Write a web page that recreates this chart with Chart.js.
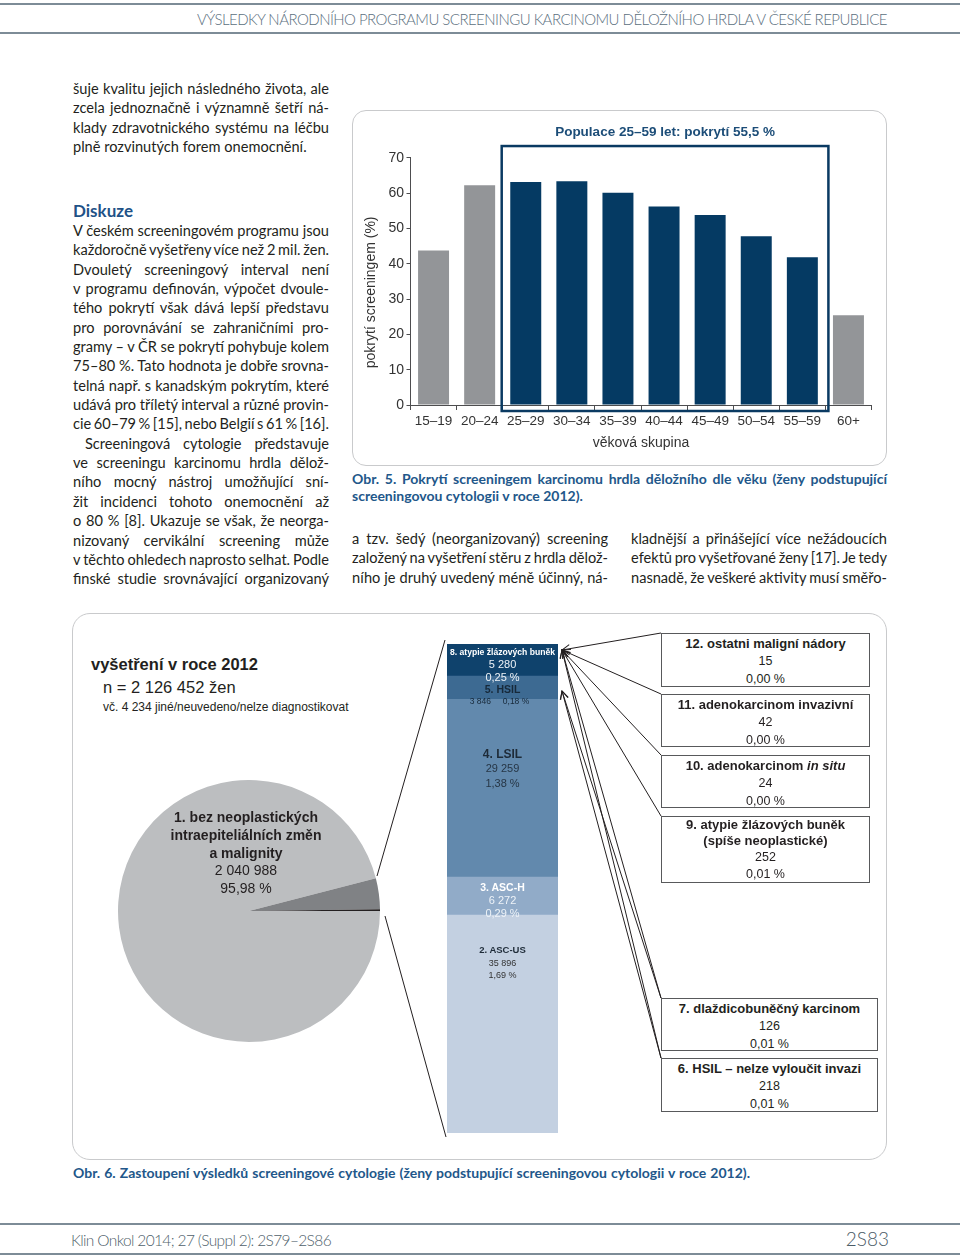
<!DOCTYPE html>
<html lang="cs">
<head>
<meta charset="utf-8">
<title>Výsledky screeningu karcinomu děložního hrdla</title>
<script src="https://cdn.jsdelivr.net/npm/chart.js@4.4.1/dist/chart.umd.min.js"></script>
<style>
  html, body { margin: 0; padding: 0; background: #fff; }
  body { width: 960px; height: 1258px; position: relative; overflow: hidden; font-family: Lato, 'Open Sans', sans-serif; color: #231f20; }
  .rule { position: absolute; left: 0; width: 960px; border-top: 2px solid #7d8c97; }
  .col { position: absolute; width: 256px; font-size: 14.6px; line-height: 19.35px; }
  .ln { display: table; white-space: nowrap; }
  .cap { position: absolute; color: #22578a; font-weight: 700; font-size: 14px; line-height: 17px; }
  .frame { position: absolute; box-sizing: border-box; border: 1.5px solid #c9cacc; border-radius: 14px; }
  .lbl { position: absolute; z-index: 5; transform: translate(-50%, -50%); white-space: nowrap; line-height: 1; font-family: 'Liberation Sans', Arial, sans-serif; }
  .box { position: absolute; box-sizing: border-box; border: 1.5px solid #58595b; background: #fff; text-align: center;
         font-family: 'Liberation Sans', Arial, sans-serif; font-size: 12.5px; line-height: 17.3px; padding-top: 1px; color: #231f20; }
  .box.tall { line-height: 16.2px; padding-top: 0; }
  .box b { font-size: 13px; }
  canvas { position: absolute; }
</style>
</head>
<body>

<div class="rule" style="top:3px"></div>
<div class="rule" style="top:32px"></div>
<div style="position:absolute;left:197px;top:8px;line-height:22px;font-size:15px;font-weight:300;color:#5b7080;">
  <span class="ln" data-fit="690" data-mode="letter">VÝSLEDKY NÁRODNÍHO PROGRAMU SCREENINGU KARCINOMU DĚLOŽNÍHO HRDLA V ČESKÉ REPUBLICE</span>
</div>

<!-- left column -->
<div class="col" style="left:73px;top:79px">
  <span class="ln j">šuje kvalitu jejich následného života, ale</span>
  <span class="ln j">zcela jednoznačně i významně šetří ná-</span>
  <span class="ln j">klady zdravotnického systému na léčbu</span>
  <span class="ln">plně rozvinutých forem onemocnění.</span>
</div>
<div style="position:absolute;left:73px;top:201px;line-height:20px;font-size:17px;font-weight:700;color:#1f5287;">Diskuze</div>
<div class="col" style="left:73px;top:221px">
  <span class="ln j">V českém screeningovém programu jsou</span>
  <span class="ln j">každoročně vyšetřeny více než 2 mil. žen.</span>
  <span class="ln j">Dvouletý screeningový interval není</span>
  <span class="ln j">v programu definován, výpočet dvoule-</span>
  <span class="ln j">tého pokrytí však dává lepší představu</span>
  <span class="ln j">pro porovnávání se zahraničními pro-</span>
  <span class="ln j">gramy – v ČR se pokrytí pohybuje kolem</span>
  <span class="ln j">75–80 %. Tato hodnota je dobře srovna-</span>
  <span class="ln j">telná např. s kanadským pokrytím, které</span>
  <span class="ln j">udává pro tříletý interval a různé provin-</span>
  <span class="ln j">cie 60–79 % [15], nebo Belgií s 61 % [16].</span>
  <span class="ln j" style="margin-left:12px">Screeningová cytologie představuje</span>
  <span class="ln j">ve screeningu karcinomu hrdla dělož-</span>
  <span class="ln j">ního mocný nástroj umožňující sní-</span>
  <span class="ln j">žit incidenci tohoto onemocnění až</span>
  <span class="ln j">o 80 % [8]. Ukazuje se však, že neorga-</span>
  <span class="ln j">nizovaný cervikální screening může</span>
  <span class="ln j">v těchto ohledech naprosto selhat. Podle</span>
  <span class="ln j">finské studie srovnávající organizovaný</span>
</div>

<!-- figure 5 -->
<div class="frame" style="left:352px;top:110px;width:535px;height:356px"></div>
<canvas id="coverage" width="535" height="356" style="left:352px;top:110px"></canvas>

<div class="cap" style="left:352px;top:470px;width:535px">
  <span class="ln j">Obr. 5. Pokrytí screeningem karcinomu hrdla děložního dle věku (ženy podstupující</span>
  <span class="ln">screeningovou cytologii v roce 2012).</span>
</div>

<div class="col" style="left:352px;top:529px">
  <span class="ln j">a tzv. šedý (neorganizovaný) screening</span>
  <span class="ln j">založený na vyšetření stěru z hrdla dělož-</span>
  <span class="ln j">ního je druhý uvedený méně účinný, ná-</span>
</div>
<div class="col" style="left:631px;top:529px">
  <span class="ln j">kladnější a přinášející více nežádoucích</span>
  <span class="ln j">efektů pro vyšetřované ženy [17]. Je tedy</span>
  <span class="ln j">nasnadě, že veškeré aktivity musí směřo-</span>
</div>

<!-- figure 6 -->
<div class="frame" style="left:72px;top:613px;width:815px;height:547px;border-radius:18px"></div>
<canvas id="pie" width="262" height="262" style="left:118px;top:780px"></canvas>
<canvas id="cyto" width="111" height="489" style="left:447px;top:644px"></canvas>
<div id="fig6"></div>
<svg id="links" width="960" height="1258" style="position:absolute;left:0;top:0;z-index:3">
  <defs>
    <marker id="ah" markerWidth="10" markerHeight="10" refX="9" refY="5" orient="auto" markerUnits="userSpaceOnUse">
      <path d="M1,1 L9,5 L1,9" fill="none" stroke="#231f20" stroke-width="1"/>
    </marker>
  </defs>
  <g id="linkGroup" stroke="#231f20" stroke-width="1" fill="none"></g>
</svg>

<div class="cap" style="left:73px;top:1164px">
  <span class="ln" data-fit="677">Obr. 6. Zastoupení výsledků screeningové cytologie (ženy podstupující screeningovou cytologii v roce 2012).</span>
</div>

<div class="rule" style="top:1223px"></div>
<div class="rule" style="top:1253px"></div>
<div style="position:absolute;left:71px;top:1229px;line-height:22px;font-size:15.5px;font-weight:300;color:#4f5f6b;">
  <span class="ln" data-fit="260" data-mode="letter">Klin Onkol 2014; 27 (Suppl 2): 2S79–2S86</span>
</div>
<div style="position:absolute;right:71px;top:1227px;line-height:24px;font-size:19px;font-weight:300;color:#4a5a66;">2S83</div>

<script>
// obr. 5 – pokrytí dle věku
const ageGroups = ['15–19', '20–24', '25–29', '30–34', '35–39', '40–44', '45–49', '50–54', '55–59', '60+']
const coverage = [43.7, 62.2, 63.1, 63.3, 60.1, 56.2, 53.8, 47.8, 41.8, 25.4]
const targetGroups = ['25–29', '30–34', '35–39', '40–44', '45–49', '50–54', '55–59']
const targetTitle = 'Populace 25–59 let: pokrytí 55,5 %'
const yTitle = 'pokrytí screeningem (%)'
const xTitle = 'věková skupina'

// obr. 6 – výsledky cytologie
const normalLabel = '1. bez neoplastických|intraepiteliálních změn|a malignity'
const normalCount = 2040988
const otherCount = 4234 // jiné/neuvedeno/nelze diagnostikovat
const cytoLabels = ['2. ASC-US', '3. ASC-H', '4. LSIL', '5. HSIL', '8. atypie žlázových buněk']
const cytoCounts = [35896, 6272, 29259, 3846, 5280]
const rareLabels = ['12. ostatni maligní nádory', '11. adenokarcinom invazivní', '10. adenokarcinom <i>in situ</i>',
  '9. atypie žlázových buněk<br>(spíše neoplastické)', '7. dlaždicobuněčný karcinom', '6. HSIL – nelze vyloučit invazi']
const rareCounts = [15, 42, 24, 252, 126, 218]

const sum = (a) => a.reduce((s, v) => s + v, 0)
const fmt = (n) => String(n).replace(/\B(?=(\d{3})+(?!\d))/g, ' ')
const abnormalCount = sum(cytoCounts) + sum(rareCounts)
const total = normalCount + abnormalCount + otherCount
const pct = (n) => (n / total * 100).toFixed(2).replace('.', ',') + ' %'

Chart.defaults.font.family = "'Liberation Sans', Arial, sans-serif"
Chart.defaults.color = '#333'

const NAVY = '#053a63'
const GREY = '#939598'
const AXIS = '#4d4d4f'

const targetBox = {
  id: 'targetBox',
  afterDraw(chart) {
    const { ctx, scales: { x, y } } = chart
    const i0 = ageGroups.indexOf(targetGroups[0])
    const i1 = ageGroups.indexOf(targetGroups[targetGroups.length - 1])
    const half = (x.getPixelForValue(1) - x.getPixelForValue(0)) / 2
    const left = x.getPixelForValue(i0) - half - 1
    const right = x.getPixelForValue(i1) + half + 3
    const top = y.getPixelForValue(73.3)
    const bottom = y.bottom + 6
    ctx.save()
    ctx.strokeStyle = '#0a3a62'
    ctx.lineWidth = 2.5
    ctx.strokeRect(left, top, right - left, bottom - top)
    ctx.fillStyle = '#1c4d78'
    ctx.font = "bold 13.5px 'Liberation Sans', Arial, sans-serif"
    ctx.textAlign = 'center'
    ctx.textBaseline = 'middle'
    ctx.fillText(targetTitle, (left + right) / 2, y.getPixelForValue(77.1))
    // y axis title
    ctx.fillStyle = '#333'
    ctx.font = "14px 'Liberation Sans', Arial, sans-serif"
    ctx.translate(19, (y.top + y.bottom) / 2 + 11)
    ctx.rotate(-Math.PI / 2)
    ctx.fillText(yTitle, 0, 0)
    ctx.restore()
  },
}

new Chart(document.getElementById('coverage'), {
  type: 'bar',
  data: {
    labels: ageGroups,
    datasets: [
      {
        data: coverage,
        backgroundColor: ageGroups.map((g) => (targetGroups.includes(g) ? NAVY : GREY)),
        categoryPercentage: 0.8,
        barPercentage: 0.84,
      },
    ],
  },
  options: {
    responsive: false,
    animation: false,
    layout: { padding: { top: 47.7, right: 15.5, left: 0, bottom: 0 } },
    plugins: { legend: { display: false }, tooltip: { enabled: false } },
    scales: {
      x: {
        offset: true,
        grid: { offset: true, drawOnChartArea: false, tickLength: 5, color: AXIS },
        border: { color: AXIS },
        ticks: { color: '#333', font: { size: 13.5 }, padding: 3, maxRotation: 0, autoSkip: false },
        title: { display: true, text: xTitle, color: '#333', font: { size: 14 }, padding: { top: 4, bottom: 14.6 } },
        afterFit: (s) => { s.height = 61 },
      },
      y: {
        min: 0,
        max: 70,
        ticks: { stepSize: 10, color: '#333', font: { size: 14 }, padding: 2.5 },
        grid: { drawOnChartArea: false, tickLength: 4, color: AXIS },
        border: { color: AXIS },
        afterFit: (s) => { s.width = 58.5 },
      },
    },
  },
  plugins: [targetBox],
})

// pie: normal / abnormal / other
new Chart(document.getElementById('pie'), {
  type: 'pie',
  data: {
    labels: ['bez neoplastických změn', 'abnormální nález', 'jiné/neuvedeno'],
    datasets: [
      {
        data: [normalCount, abnormalCount, otherCount],
        backgroundColor: ['#bcbec0', '#808285', '#231f20'],
        borderWidth: 0,
      },
    ],
  },
  options: {
    responsive: false,
    animation: false,
    rotation: 90,
    layout: { padding: 0 },
    plugins: { legend: { display: false }, tooltip: { enabled: false } },
  },
})

// abnormal results as one stacked column
const cytoColors = ['#c3d0e1', '#91abc8', '#6289ad', '#3d6a92', '#0f426c']
new Chart(document.getElementById('cyto'), {
  type: 'bar',
  data: {
    labels: [''],
    datasets: cytoLabels.map((l, i) => ({
      label: l,
      data: [cytoCounts[i]],
      backgroundColor: cytoColors[i],
      barPercentage: 1,
      categoryPercentage: 1,
    })),
  },
  options: {
    responsive: false,
    animation: false,
    layout: { padding: 0 },
    plugins: { legend: { display: false }, tooltip: { enabled: false } },
    scales: {
      x: { stacked: true, display: false },
      y: { stacked: true, display: false, min: 0, max: sum(cytoCounts) },
    },
  },
})

// texts of figure 6
const fig6 = document.getElementById('fig6')
function label(html, x, y, css) {
  const d = document.createElement('div')
  d.className = 'lbl'
  d.innerHTML = html
  d.style.cssText = `left:${x}px;top:${y}px;` + (css || '')
  fig6.appendChild(d)
}
fig6.insertAdjacentHTML('beforeend',
  `<div style="position:absolute;left:91px;top:654px;font:bold 16.5px 'Liberation Sans',Arial,sans-serif;line-height:20px">vyšetření v roce 2012</div>
   <div style="position:absolute;left:103px;top:677px;font:16.5px 'Liberation Sans',Arial,sans-serif;line-height:20px">n = ${fmt(total)} žen</div>
   <div style="position:absolute;left:103px;top:700px;font:12px 'Liberation Sans',Arial,sans-serif;line-height:14px">vč. ${fmt(otherCount)} jiné/neuvedeno/nelze diagnostikovat</div>`)

normalLabel.split('|').forEach((t, i) => label(`<b>${t}</b>`, 246, 817 + i * 17.8, 'font-size:14px;color:#231f20'))
label(fmt(normalCount), 246, 870.4, 'font-size:14px;color:#231f20')
label(pct(normalCount), 246, 888.2, 'font-size:14px;color:#231f20')

// labels inside the stacked column (index into cytoLabels)
const cx = 502.5
label(`<b>${cytoLabels[4]}</b>`, cx, 651.7, 'font-size:8.6px;color:#fff')
label(fmt(cytoCounts[4]), cx, 663.5, 'font-size:11px;color:#eef3f8')
label(pct(cytoCounts[4]), cx, 676.5, 'font-size:11px;color:#eef3f8')
label(`<b>${cytoLabels[3]}</b>`, cx, 689.3, 'font-size:10.5px;color:#17293a')
label(`${fmt(cytoCounts[3])}&nbsp;&nbsp;&nbsp;&nbsp;&nbsp;${pct(cytoCounts[3])}`, cx - 3, 701, 'font-size:8.5px;color:#17293a')
label(`<b>${cytoLabels[2]}</b>`, cx, 754, 'font-size:12px;color:#1e2b38')
label(fmt(cytoCounts[2]), cx, 767.7, 'font-size:11px;color:#263646')
label(pct(cytoCounts[2]), cx, 782.7, 'font-size:11px;color:#263646')
label(`<b>${cytoLabels[1]}</b>`, cx, 887.3, 'font-size:10.5px;color:#fff')
label(fmt(cytoCounts[1]), cx, 900, 'font-size:11px;color:#eef3f8')
label(pct(cytoCounts[1]), cx, 912.7, 'font-size:11px;color:#eef3f8')
label(`<b>${cytoLabels[0]}</b>`, cx, 950, 'font-size:9.5px;color:#1e2b38')
label(fmt(cytoCounts[0]), cx, 962.7, 'font-size:9px;color:#333')
label(pct(cytoCounts[0]), cx, 975, 'font-size:9px;color:#333')

// boxes for the rare results
const rareBoxes = [[661, 633, 209, 54], [661, 694, 209, 53], [661, 755, 209, 53], [661, 816, 209, 67], [661, 998, 217, 53], [661, 1058, 217, 54]]
const arrowTop = [562, 650]
const arrowHsil = [562, 691]
const links = document.getElementById('linkGroup')
function line(x1, y1, x2, y2, arrow) {
  const l = document.createElementNS('http://www.w3.org/2000/svg', 'line')
  l.setAttribute('x1', x1); l.setAttribute('y1', y1); l.setAttribute('x2', x2); l.setAttribute('y2', y2)
  if (arrow) l.setAttribute('marker-end', 'url(#ah)')
  links.appendChild(l)
}
rareLabels.forEach((t, i) => {
  const [x, y, w, h] = rareBoxes[i]
  const b = document.createElement('div')
  b.className = t.includes('<br>') ? 'box tall' : 'box'
  b.style.cssText = `left:${x}px;top:${y}px;width:${w}px;height:${h}px;z-index:4`
  b.innerHTML = `<b>${t}</b><br>${fmt(rareCounts[i])}<br>${pct(rareCounts[i])}`
  fig6.appendChild(b)
  line(x, y, arrowTop[0], arrowTop[1], true)
  if (i >= 4) line(x, y, arrowHsil[0], arrowHsil[1], true)
})
// pie to column
line(377, 876, 445, 640)
line(385, 916, 446, 1137)

// justify text lines to the column width
function fitText() {
  document.querySelectorAll('.j, [data-fit]').forEach((el) => {
    el.style.wordSpacing = ''
    el.style.letterSpacing = ''
    const w = el.getBoundingClientRect().width
    const target = el.dataset.fit
      ? parseFloat(el.dataset.fit)
      : el.parentNode.clientWidth - (parseFloat(el.style.marginLeft) || 0)
    if (el.dataset.mode === 'letter') {
      el.style.letterSpacing = (target - w) / el.textContent.length + 'px'
    } else {
      const gaps = (el.textContent.trim().match(/ +/g) || []).length
      if (gaps) el.style.wordSpacing = (target - w) / gaps + 'px'
    }
  })
}
fitText()
document.fonts.ready.then(fitText)
</script>
</body>
</html>
